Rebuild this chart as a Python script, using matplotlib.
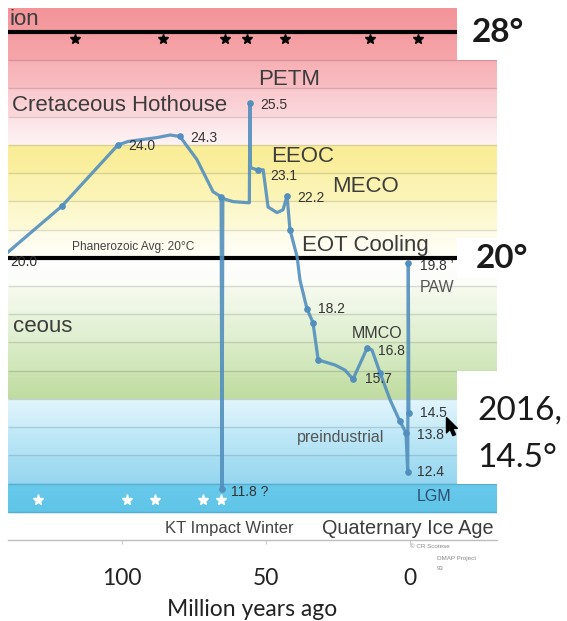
import numpy as np
import matplotlib
matplotlib.use('Agg')
import matplotlib.pyplot as plt
from matplotlib.path import Path

plt.rcParams['font.family'] = ['Liberation Sans', 'DejaVu Sans']

# ---------------- data ----------------
age = [139.6, 120.8, 101.4, 97.9, 87.8, 83.3, 79.9, 74.0, 68.4, 65.6, 65.3, 65.0,
       61.5, 56.3, 55.8, 55.6, 55.4, 52.8, 51.0, 49.3, 46.2, 44.1, 42.7, 41.7,
       39.2, 38.2, 35.8, 33.7, 31.9, 26.0, 22.6, 19.8, 14.9, 13.2, 10.4, 6.9,
       3.5, 1.4, 0.8, 0.6, 0.4]
temp = [20.2, 21.84, 24.0, 24.12, 24.26, 24.35, 24.3, 23.48, 22.34, 22.16, 11.8, 22.1,
        21.99, 21.95, 21.95, 25.5, 23.2, 23.1, 23.12, 21.8, 21.6, 21.7, 22.2, 21.0,
        20.03, 19.2, 18.2, 17.7, 16.38, 16.2, 16.02, 15.7, 16.8, 16.73, 15.92, 14.96,
        14.2, 13.8, 12.4, 19.8, 14.5]
marker_idx = [1, 2, 6, 9, 10, 15, 17, 22, 23, 26, 27, 28, 31, 32, 34, 36, 37, 38, 39, 40]
value_idx = [0, 2, 6, 15, 17, 22, 26, 32, 31, 39, 40, 37, 38, 10]
value_text = ['20.0', '24.0', '24.3', '25.5', '23.1', '22.2', '18.2', '16.8', '15.7',
              '19.8 \u2019', '14.5', '13.8', '12.4', '11.8 ?']

hot_star_age = [116.3, 85.8, 64.2, 56.6, 43.4, 13.9, -2.8]
hot_star_temp = 27.75
cold_star_age = [129.2, 98.3, 88.5, 71.9, 65.6]
cold_star_temp = 11.4

xticks = [100, 50, 0]
xtick_labels = ['100', '50', '0']
ref_lines = [28, 20]

# ---------------- layout ----------------
XL, XR = 139.6, -30.2
YB, YT = 10.0, 28.85
BOX_X = -16.3

fig = plt.figure(figsize=(5.67, 6.21), dpi=100)
ax = fig.add_axes([8 / 567, 1 - 540 / 621, 489 / 567, 532 / 621])


def P(x, y):
    """pixel position in the picture -> data coordinates (for text placement)"""
    return (410 - x) / 2.88, 25.5 - (y - 103) / 28.17


# background bands (lo, hi, colour at lo, colour at hi)
bands = [
    (10.95, 12, (96, 197, 232), (104, 201, 235)),
    (12, 13, (150, 214, 240), (170, 223, 243)),
    (13, 14, (176, 226, 245), (196, 234, 248)),
    (14, 15, (202, 236, 249), (226, 245, 252)),
    (15, 16, (192, 220, 160), (204, 228, 178)),
    (16, 17, (207, 230, 185), (218, 236, 200)),
    (17, 18, (222, 238, 206), (232, 243, 220)),
    (18, 19, (236, 245, 226), (246, 250, 238)),
    (19, 20, (251, 253, 247), (255, 255, 255)),
    (20, 21, (255, 254, 246), (254, 252, 232)),
    (21, 22, (253, 250, 216), (252, 247, 200)),
    (22, 23, (252, 245, 186), (251, 242, 172)),
    (23, 24, (250, 240, 162), (250, 237, 150)),
    (24, 25, (254, 243, 244), (252, 226, 229)),
    (25, 26, (251, 216, 220), (250, 201, 206)),
    (26, 27, (248, 191, 196), (247, 176, 181)),
    (27, 28.85, (246, 166, 171), (243, 148, 153)),
]
T = np.linspace(YB, YT, 1886)
img = np.ones((len(T), 1, 3))
for lo, hi, cb, ct in bands:
    m = (T >= lo) & (T < hi + 1e-9)
    f = ((T[m] - lo) / (hi - lo))[:, None]
    img[m, 0, :] = (np.array(cb) * (1 - f) + np.array(ct) * f) / 255
ax.imshow(img, extent=[XL, XR, YB, YT], origin='lower', aspect='auto',
          interpolation='bilinear', zorder=0)

# faint grid lines at every degree
ax.hlines(np.arange(11, 29), XL, XR, color=(0, 0, 0, 0.13), lw=1.0, zorder=1)

# white boxes behind the big right-hand labels
for lo, hi in [(27, YT + 1), (19.3, 20.7), (12, 16)]:
    ax.fill_betweenx([lo, hi], BOX_X, XR - 5, color='white', lw=0, zorder=2)

# reference lines 28 and 20
ax.hlines(ref_lines, XL, BOX_X, color='black', lw=3, zorder=3)

# stars
ax.plot(hot_star_age, [hot_star_temp] * len(hot_star_age), ls='none', marker='*',
        ms=7, color='black', zorder=3)
ax.plot(cold_star_age, [cold_star_temp] * len(cold_star_age), ls='none', marker='*',
        ms=8, color='white', zorder=3)

# temperature curve
line_col = (0.32, 0.56, 0.74)
ax.plot(age, temp, color=line_col, lw=2.3, alpha=0.9, zorder=4, solid_joinstyle='round')
ax.plot([age[i] for i in marker_idx], [temp[i] for i in marker_idx], ls='none',
        marker='o', ms=3.8, color=line_col, zorder=4)

# value labels
value_offset_px = [(2, 10), (10, 1), (10, 2), (10, 2), (12, 6), (10, 2), (11, 0),
                   (11, 3), (12, 0), (12, 3), (11, 0), (11, 2), (9, 0), (9, 3)]
for i, txt, (dx, dy) in zip(value_idx, value_text, value_offset_px):
    ax.annotate(txt, (age[i], temp[i]), xytext=(dx * 0.72, -dy * 0.72),
                textcoords='offset points', ha='left', va='center',
                fontsize=10, color='#333333', zorder=5)

# event labels
lab_col = '#3c3c3c'
def lab(x, y, s, size=16, ha='left', color=lab_col, **kw):
    ax.text(*P(x, y), s, fontsize=size, ha=ha, va='baseline', color=color,
            zorder=5, **kw)

lab(9, 26, 'ion')
lab(12, 111, 'Cretaceous Hothouse')
lab(258, 85, 'PETM')
lab(271, 162, 'EEOC')
lab(332, 192, 'MECO')
lab(302, 251, 'EOT Cooling')
lab(72, 332, 'ceous', ha='right')
lab(72, 250, 'Phanerozoic Avg: 20\u00b0C', size=8.6, color='#444444')
lab(352, 338, 'MMCO', size=11.5)
lab(420, 292, 'PAW', size=11.5, color='#555555')
lab(297, 442, 'preindustrial', size=11.5, color='#555555')
lab(417, 501, 'LGM', size=11.5, color='#2d4d6e')
lab(165, 533, 'KT Impact Winter', size=12, color='#444444')
lab(322, 534, 'Quaternary Ice Age', size=14.3)

# big right-hand annotations
big = dict(family=['Lato', 'DejaVu Sans'], color='#1a1a1a', clip_on=False)
ax.text(*P(472, 43), '28\u00b0', fontsize=24, fontweight='bold', va='baseline', **big)
ax.text(*P(476, 268), '20\u00b0', fontsize=24, fontweight='bold', va='baseline', **big)
ax.text(*P(477, 419), '2016,', fontsize=24, va='baseline', **big)
ax.text(*P(477, 467), '14.5\u00b0', fontsize=24, va='baseline', **big)

# mouse cursor
cursor = Path([(0, 0), (0, -17), (4, -13), (7, -20), (10, -19), (7, -12), (12, -12), (0, 0)],
              [Path.MOVETO] + [Path.LINETO] * 6 + [Path.CLOSEPOLY])
ax.plot(*P(446, 417), marker=cursor, ms=26, color='black', zorder=6, clip_on=False)

# attribution
for (x, y, s) in [(410, 548, '\u00a9 CR Scotese'), (437, 560, 'DMAP Project'), (437, 570, '93')]:
    ax.text(*P(x, y), s, fontsize=4.5, color='#888888', ha='left', va='baseline', clip_on=False)

# axes
ax.set_xlim(XL, XR)
ax.set_ylim(YB, YT)
for s in ['top', 'left', 'right']:
    ax.spines[s].set_visible(False)
ax.spines['bottom'].set_color('#bdbdbd')
ax.spines['bottom'].set_linewidth(1)
ax.set_yticks([])
ax.set_xticks(xticks)
ax.set_xticklabels(xtick_labels, family=['Lato', 'DejaVu Sans'], fontsize=16.5, color='#222222')
ax.tick_params(axis='x', length=3, color='#cccccc', pad=17)
ax.set_xlabel('Million years ago', family=['Lato', 'DejaVu Sans'], fontsize=16.5,
              color='#222222', labelpad=7)

fig.savefig('out.png', dpi=100)
